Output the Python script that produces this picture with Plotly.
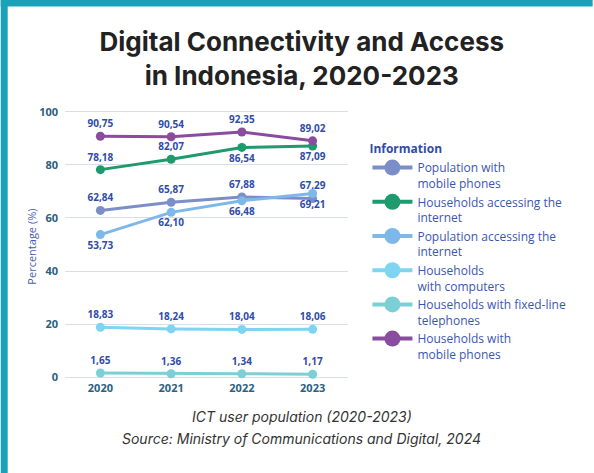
import plotly.graph_objects as go

years = ["2020", "2021", "2022", "2023"]
series_names = [
    "Population with<br>mobile phones",
    "Households accessing the<br>internet",
    "Population accessing the<br>internet",
    "Households<br>with computers",
    "Households with fixed-line<br>telephones",
    "Households with<br>mobile phones",
]
pop_mobile = [62.84, 65.87, 67.88, 67.29]
hh_internet = [78.18, 82.07, 86.54, 87.09]
pop_internet = [53.73, 62.10, 66.48, 69.21]
hh_computers = [18.83, 18.24, 18.04, 18.06]
hh_fixed = [1.65, 1.36, 1.34, 1.17]
hh_mobile = [90.75, 90.54, 92.35, 89.02]

values = [pop_mobile, hh_internet, pop_internet, hh_computers, hh_fixed, hh_mobile]
colors = ["#7B8EC8", "#1E9A6C", "#7DB8E8", "#7FD4F2", "#7DCFD6", "#8A4C9E"]
text_pos = [
    ["top center"] * 4,
    ["top center", "top center", "bottom center", "bottom center"],
    ["bottom center"] * 4,
    ["top center"] * 4,
    ["top center"] * 4,
    ["top center"] * 4,
]

def fmt(v):
    return f"{v:.2f}".replace(".", ",")

fig = go.Figure()
for name, vals, col, tp in zip(series_names, values, colors, text_pos):
    fig.add_trace(go.Scatter(
        x=years, y=vals, mode="lines+markers+text",
        line=dict(color=col, width=3), marker=dict(color=col, size=9),
        text=[fmt(v) for v in vals], textposition=tp,
        textfont=dict(family="Open Sans", size=10, color="#2F4CA8", weight="bold"),
        showlegend=False, cliponaxis=False,
    ))
# legend entries
for name, col in zip(series_names, colors):
    fig.add_trace(go.Scatter(
        x=[None], y=[None], mode="lines+markers", name=name,
        line=dict(color=col, width=4), marker=dict(color=col, size=16),
        showlegend=True,
    ))

L, R, T = 64.5, 245.5, 109.35
PW = 594 - L - R
PH = 270.3
B = 473 - T - PH

def px(xp):
    return (xp - L) / PW

def py(yp):
    return (T + PH - yp) / PH

fig.update_layout(
    width=594, height=473,
    margin=dict(l=L, r=R, t=T, b=B, pad=0),
    paper_bgcolor="white", plot_bgcolor="white",
    font=dict(family="Open Sans", color="#3A57B0"),
    title=dict(
        text="Digital Connectivity and Access<br>in Indonesia, 2020-2023",
        font=dict(family="Inter", size=26, color="#222222", weight="bold"),
        x=0.508, xanchor="center", xref="container",
        y=1 - 51 / 473, yanchor="middle", yref="container",
    ),
    xaxis=dict(
        type="category", range=[-0.5, 3.5], showgrid=False, zeroline=False,
        showline=False, ticks="",
        tickfont=dict(family="Open Sans", size=11, color="#2B607E", weight="bold"),
    ),
    yaxis=dict(
        range=[-1, 101], tickvals=[0, 20, 40, 60, 80, 100],
        showgrid=True, gridcolor="#D7E0EA", gridwidth=1, zeroline=False,
        showline=False, ticks="", ticklabelstandoff=6,
        tickfont=dict(family="Open Sans", size=11, color="#2B607E", weight="bold"),
    ),
    legend=dict(
        x=px(368), y=py(138), xanchor="left", yanchor="top",
        title=dict(text="Information", font=dict(family="Open Sans", size=12, color="#2F4CA8", weight="bold")),
        font=dict(family="Open Sans", size=12, color="#3A57B0"),
        valign="top", tracegroupgap=0, itemwidth=40,
        bgcolor="rgba(0,0,0,0)",
    ),
    shapes=[
        dict(type="rect", xref="paper", yref="paper", x0=px(0), x1=px(7), y0=py(473), y1=py(0),
             fillcolor="#1BA1B8", line=dict(width=0), layer="above"),
        dict(type="rect", xref="paper", yref="paper", x0=px(0), x1=px(594), y0=py(7), y1=py(0),
             fillcolor="#1BA1B8", line=dict(width=0), layer="above"),
    ],
    annotations=[
        dict(text="Percentage (%)", xref="paper", yref="paper", x=px(30), y=py(247),
             textangle=-90, showarrow=False, xanchor="center", yanchor="middle",
             font=dict(family="Open Sans", size=11, color="#3F5DB0")),
        dict(text="<i>ICT user population (2020-2023)</i>", xref="paper", yref="paper",
             x=px(302), y=py(416), showarrow=False, xanchor="center", yanchor="middle",
             font=dict(family="Inter", size=14, color="#333333")),
        dict(text="<i>Source: Ministry of Communications and Digital, 2024</i>", xref="paper", yref="paper",
             x=px(302), y=py(438), showarrow=False, xanchor="center", yanchor="middle",
             font=dict(family="Inter", size=14, color="#333333")),
    ],
)

fig.write_html("out.html", config={"displayModeBar": False},
               post_script="document.body.style.margin='0';")
